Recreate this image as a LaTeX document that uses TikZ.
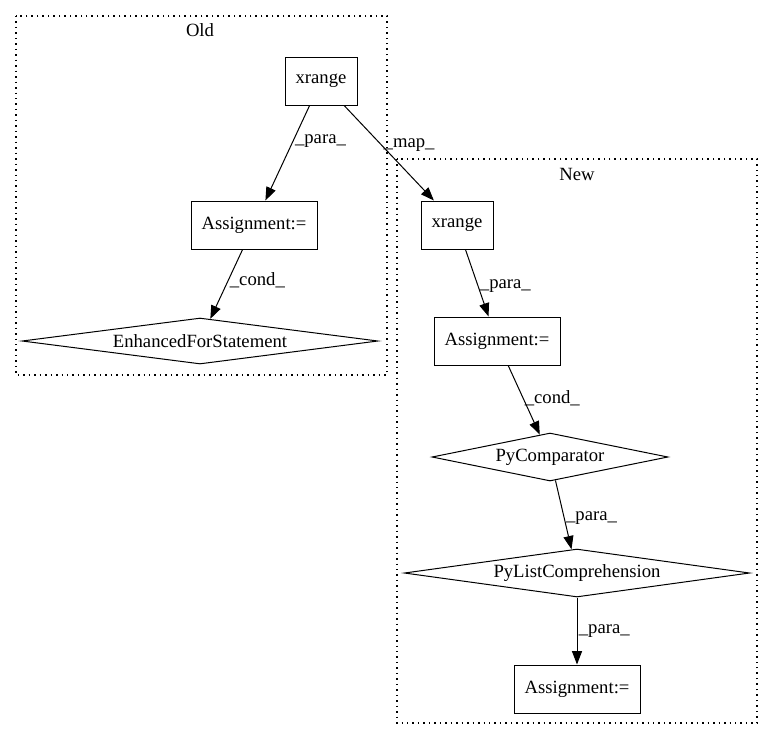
\documentclass[tikz,border=0pt]{standalone}
\usepackage{fontspec}
\setmainfont{Liberation Serif}
\usetikzlibrary{arrows.meta,shapes.geometric}
\begin{document}
\begin{tikzpicture}[x=0.75pt,y=-0.75pt,>={Triangle[length=10pt,width=7.5pt]},
	every node/.style={font=\fontsize{14pt}{17pt}\selectfont},
	box/.style={draw,line width=0.75pt,rectangle,inner sep=0pt,minimum height=36pt},
	decision/.style={draw,line width=0.75pt,diamond,inner sep=0pt,minimum height=#1},
	cluster/.style={line width=1.1pt,dash pattern=on 1.1pt off 3pt},
	flow/.style={line width=0.75pt,->},
	lbl/.style={anchor=west,inner sep=1pt}]
	\useasboundingbox (0,0) rectangle (773,740);
	
	% the two clusters
	\draw [cluster] (16,16) rectangle (387,375);
	\node (OldTitle) at (200,30) {Old};
	\draw [cluster] (397,159) rectangle (757,723);
	\node (NewTitle) at (577,174) {New};
	
	% Old version
	\node[box,minimum width=54pt] (XrangeOld) at (321,81) {xrange};
	\node[box,minimum width=94.5pt] (AssignOld) at (254,225) {Assignment:=};
	\node[decision=34.5pt,minimum width=267pt,aspect=7.7] (ForOld) at (200,341) {EnhancedForStatement};
	
	% New version
	\node[box,minimum width=54pt] (XrangeNew) at (457,225) {xrange};
	\node[box,minimum width=94.5pt] (AssignNew) at (497,341) {Assignment:=};
	\node[decision=36pt,minimum width=177pt,aspect=4.9] (Comparator) at (550,457) {PyComparator};
	\node[decision=36pt,minimum width=259pt,aspect=7.2] (ListComp) at (577,573) {PyListComprehension};
	\node[box,minimum width=94.5pt] (AssignLast) at (577,689) {Assignment:=};
	
	\draw [flow] (XrangeOld) -- (AssignOld) node[lbl,pos=0.37] (ParaOld) {\_para\_};
	\draw [flow] (AssignOld) -- (ForOld) node[lbl,pos=0.45] (CondOld) {\_cond\_};
	\draw [flow] (XrangeOld) -- (XrangeNew) node[lbl,pos=0.42] (MapEdge) {\_map\_};% Old -> New
	\draw [flow] (XrangeNew) -- (AssignNew) node[lbl,pos=0.55] (ParaNew) {\_para\_};
	\draw [flow] (AssignNew) -- (Comparator) node[lbl,pos=0.47] (CondNew) {\_cond\_};
	\draw [flow] (Comparator) -- (ListComp) node[lbl,pos=0.55] (ParaComp) {\_para\_};
	\draw [flow] (ListComp) -- (AssignLast) node[lbl,pos=0.5] (ParaList) {\_para\_};
\end{tikzpicture}
\end{document}
